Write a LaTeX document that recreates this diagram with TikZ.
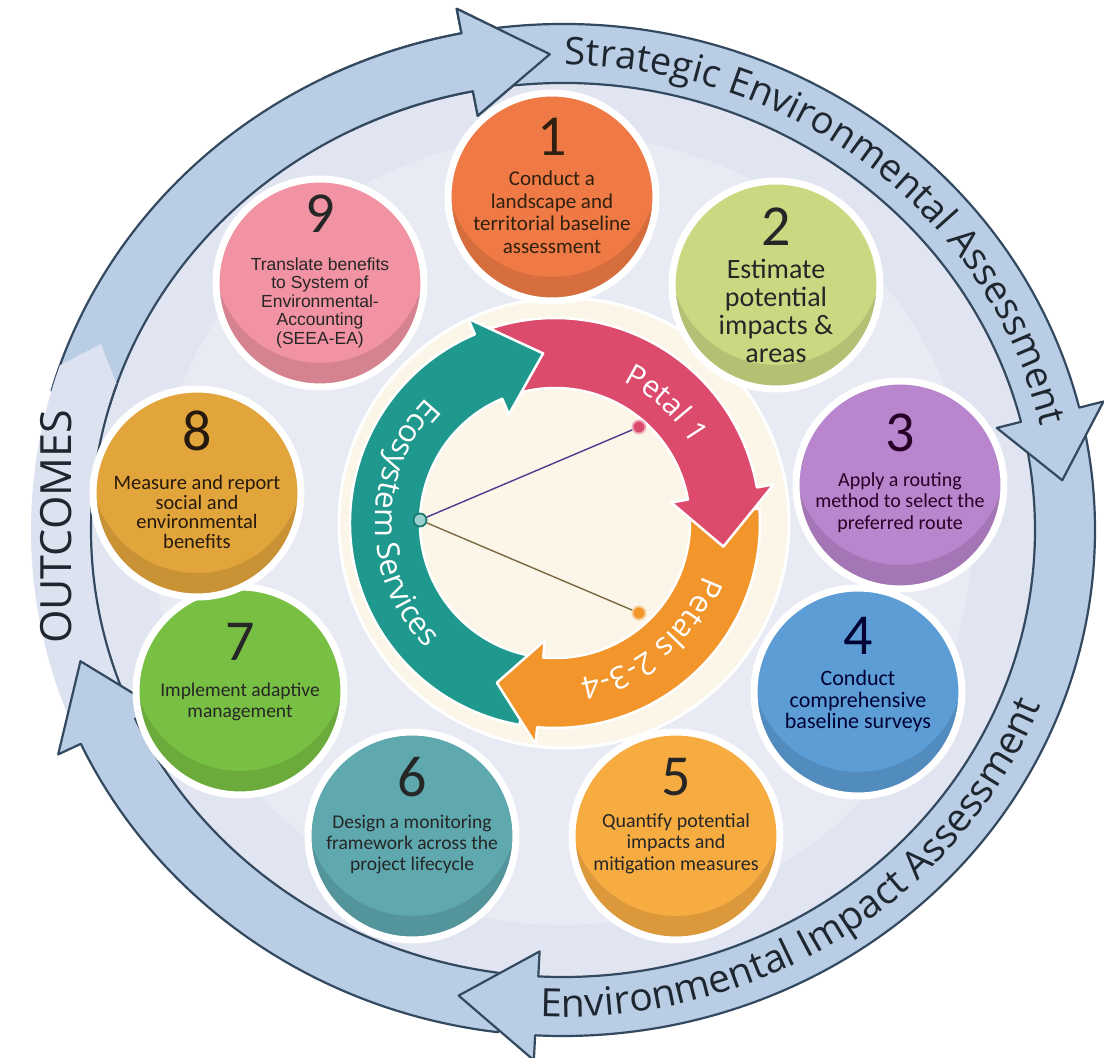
\documentclass[tikz,border=0pt]{standalone}
\usepackage{fontspec}
\setmainfont{Carlito}
\newfontfamily\bandfont{Open Sans}
\newfontfamily\arialfont{Liberation Sans}
\usepackage{tikz}
\usetikzlibrary{decorations.text, shadows}

\definecolor{bandfill}{HTML}{B9CDE5}
\definecolor{bandline}{HTML}{33495F}
\definecolor{outfill}{HTML}{DDE2F0}
\definecolor{discfill}{HTML}{E1E4F1}
\definecolor{disclight}{HTML}{E8EAF4}
\definecolor{cream}{HTML}{FCF6E8}
\definecolor{esteal}{HTML}{1F998D}
\definecolor{petred}{HTML}{DC4A6C}
\definecolor{petorange}{HTML}{F2962C}
\definecolor{spokeA}{HTML}{4C3B8E}
\definecolor{spokeB}{HTML}{7A6A44}
\definecolor{inktext}{HTML}{1E2630}
\definecolor{stepone}{HTML}{F07A45}
\definecolor{steptwo}{HTML}{C8D982}
\definecolor{stepthree}{HTML}{B985CC}
\definecolor{stepfour}{HTML}{5C9DD6}
\definecolor{stepfive}{HTML}{F7AC42}
\definecolor{stepsix}{HTML}{5EA8AE}
\definecolor{stepseven}{HTML}{78C043}
\definecolor{stepeight}{HTML}{E2A53C}
\definecolor{stepnine}{HTML}{F193A2}

\newcommand{\bignum}{\fontsize{58}{58}\selectfont}
% band arrow on the outer ellipse: tail angle, head base angle, tip angle
\newcommand{\outerarrow}[3]{(#1:532pt and 506pt) arc[start angle=#1, end angle=#2, x radius=532pt, y radius=506pt] -- (#2:557pt and 531pt) -- (#3:502pt and 476pt) -- (#2:447pt and 422pt) -- (#2:472pt and 447pt) arc[start angle=#2, end angle=#1, x radius=472pt, y radius=447pt] -- cycle}
% same for the inner ring
\newcommand{\innerarrow}[3]{(#1:205pt) arc[start angle=#1, end angle=#2, radius=205pt] -- (#2:222pt) -- (#3:170pt) -- (#2:118pt) -- (#2:135pt) arc[start angle=#2, end angle=#1, radius=135pt] -- cycle}

\tikzset{
  bandarrow/.style={fill=bandfill, draw=bandline, line width=2.2pt, line join=round},
  ringarrow/.style={fill=#1, draw=white, line width=2.5pt, line join=round},
  stepcirc/.style={
    circle, minimum size=208pt, inner sep=0pt, fill=#1, draw=white, line width=7pt,
    drop shadow={shadow xshift=1.5pt, shadow yshift=-3pt, opacity=0.18},
    path picture={\fill[#1!89!black, even odd rule] (path picture bounding box.center) circle (125pt) ([yshift=26pt]path picture bounding box.center) circle (106pt);}
  },
  steptext/.style={align=center, inner sep=0pt, text=black!85},
  hub/.style={circle, minimum size=13pt, inner sep=0pt, line width=1.8pt},
  spoke/.style={line width=1.4pt}
}

\begin{document}
\begin{tikzpicture}[x=1pt, y=1pt]
\useasboundingbox (-563,-528) rectangle (541,530);
\fill[white] (-563,-528) rectangle (541,530);

% background disc
\fill[discfill] (0,0) ellipse [x radius=505pt, y radius=480pt];
\fill[disclight] (0,0) ellipse [x radius=410pt, y radius=395pt];

% outer ring
\draw[bandarrow] \outerarrow{164}{101}{91.5};
\fill[outfill] (-158:532pt and 506pt) arc[start angle=-158, end angle=-199, x radius=532pt, y radius=506pt] -- (-203:502pt and 476pt) -- (-199:472pt and 447pt) arc[start angle=-199, end angle=-158, x radius=472pt, y radius=447pt] -- cycle;
\draw[bandline, line width=2.2pt] (-158:472pt and 447pt) arc[start angle=-158, end angle=-199, x radius=472pt, y radius=447pt];
\draw[bandarrow] \outerarrow{-97}{-155}{-164};
\draw[bandarrow] \outerarrow{11}{-93}{-102};
\draw[bandarrow] \outerarrow{97}{14}{6};
\begin{scope}
  \clip (0,0) -- (84:700pt) -- (118:700pt) -- cycle;
  \draw[bandarrow] \outerarrow{164}{101}{91.5};
\end{scope}

\path[decorate, decoration={text along path, text align=center, text color=inktext,
  text={|\bandfont\fontsize{38}{40}\selectfont|Strategic Environmental Assessment}}]
  (101:490pt and 465pt) arc[start angle=101, end angle=1, x radius=490pt, y radius=465pt];
\path[decorate, decoration={text along path, text align=center, text color=inktext,
  text={|\bandfont\fontsize{39}{40}\selectfont|Environmental Impact Assessment}}]
  (-106:512pt and 487pt) arc[start angle=-106, end angle=-7, x radius=512pt, y radius=487pt];
\node[rotate=90, font=\bandfont\fontsize{43}{43}\selectfont, text=inktext] (outc) at (-507,3) {OUTCOMES};

% centre
\fill[cream] (1,7) circle (225pt);
\draw[white, line width=3pt] (1,7) circle (225pt);
\begin{scope}[shift={(-8,7)}]
  \draw[ringarrow=esteal] \innerarrow{260}{113}{94};
  \draw[ringarrow=petorange] \innerarrow{4}{-95}{-110};
  \draw[ringarrow=petred] \innerarrow{109}{10}{-8};
  \begin{scope}
    \clip (0,0) -- (82:260pt) -- (128:260pt) -- cycle;
    \draw[ringarrow=esteal] \innerarrow{260}{113}{94};
  \end{scope}
  \path[decorate, decoration={text along path, text align=center, text color=white,
    text={|\bandfont\fontsize{30}{30}\selectfont|Petal 1}}]
    (97:157pt) arc[start angle=97, end angle=-3, radius=157pt];
  \path[decorate, decoration={text along path, text align=center, text color=white,
    text={|\bandfont\fontsize{31}{31}\selectfont|Petals 2-3-4}}]
    (0:157pt) arc[start angle=0, end angle=-100, radius=157pt];
  \path[decorate, decoration={text along path, text align=center, text color=white,
    text={|\bandfont\fontsize{31}{31}\selectfont|Ecosystem Services}}]
    (115:180pt) arc[start angle=115, end angle=245, radius=180pt];
\end{scope}

\node[hub, fill=esteal!45!white, draw=esteal!80!black] (hubes) at (-143,10) {};
\node[hub, fill=petred, draw=petred!45!white] (hubpa) at (76,103) {};
\node[hub, fill=petorange, draw=petorange!50!white] (hubpb) at (76,-83) {};
\draw[spoke, spokeA] (hubes) -- (hubpa);
\draw[spoke, spokeB] (hubes) -- (hubpb);

% the nine steps
\node[stepcirc=stepone] (s1) at (-11,333) {};
\node[steptext, font=\fontsize{21}{22.5}\selectfont, text=brown!25!black] (t1) at ([yshift=11pt]s1.center)
  {{\bignum 1}\\[7.5pt]Conduct a\\landscape and\\territorial baseline\\assessment};

\node[stepcirc=steptwo] (s2) at (213,245) {};
\node[steptext, font=\fontsize{28}{28}\selectfont] (t2) at (s2.center)
  {{\bignum 2}\\[5pt]Estimate\\potential\\impacts \&\\areas};

\node[stepcirc=stepthree] (s3) at (337,45) {};
\node[steptext, font=\fontsize{20}{21.5}\selectfont, text=violet!30!black] (t3) at ([yshift=12pt]s3.center)
  {{\bignum 3}\\[13.5pt]Apply a routing\\method to select the\\preferred route};

\node[stepcirc=stepfour] (s4) at (295,-162) {};
\node[steptext, font=\fontsize{22}{21.5}\selectfont, text=blue!20!black] (t4) at ([yshift=17pt]s4.center)
  {{\bignum 4}\\[9.5pt]Conduct\\comprehensive\\baseline surveys};

\node[stepcirc=stepfive] (s5) at (113,-306) {};
\node[steptext, font=\fontsize{20}{21.5}\selectfont] (t5) at ([yshift=20pt]s5.center)
  {{\bignum 5}\\[10.5pt]Quantify potential\\impacts and\\mitigation measures};

\node[stepcirc=stepsix] (s6) at (-151,-306) {};
\node[steptext, font=\fontsize{19.5}{21}\selectfont] (t6) at ([yshift=20pt]s6.center)
  {{\bignum 6}\\[11pt]Design a monitoring\\framework across the\\project lifecycle};

\node[stepcirc=stepseven] (s7) at (-323,-161) {};
\node[steptext, font=\fontsize{19.5}{21}\selectfont] (t7) at ([yshift=19pt]s7.center)
  {{\bignum 7}\\[15pt]Implement adaptive\\management};

\node[stepcirc=stepeight] (s8) at (-366,37) {};
\node[steptext, font=\fontsize{20.5}{19.5}\selectfont, text=brown!20!black] (t8) at ([yshift=13pt]s8.center)
  {{\bignum 8}\\[19.5pt]Measure and report\\social and\\environmental\\benefits};

\node[stepcirc=stepnine] (s9) at (-243,247) {};
\node[steptext, font=\arialfont\fontsize{17.5}{18.5}\selectfont] (t9) at ([yshift=12pt]s9.center)
  {{\rmfamily\bignum 9}\\[19.5pt]Translate benefits\\to System of\\Environmental-\\Accounting\\(SEEA-EA)};
\end{tikzpicture}
\end{document}
